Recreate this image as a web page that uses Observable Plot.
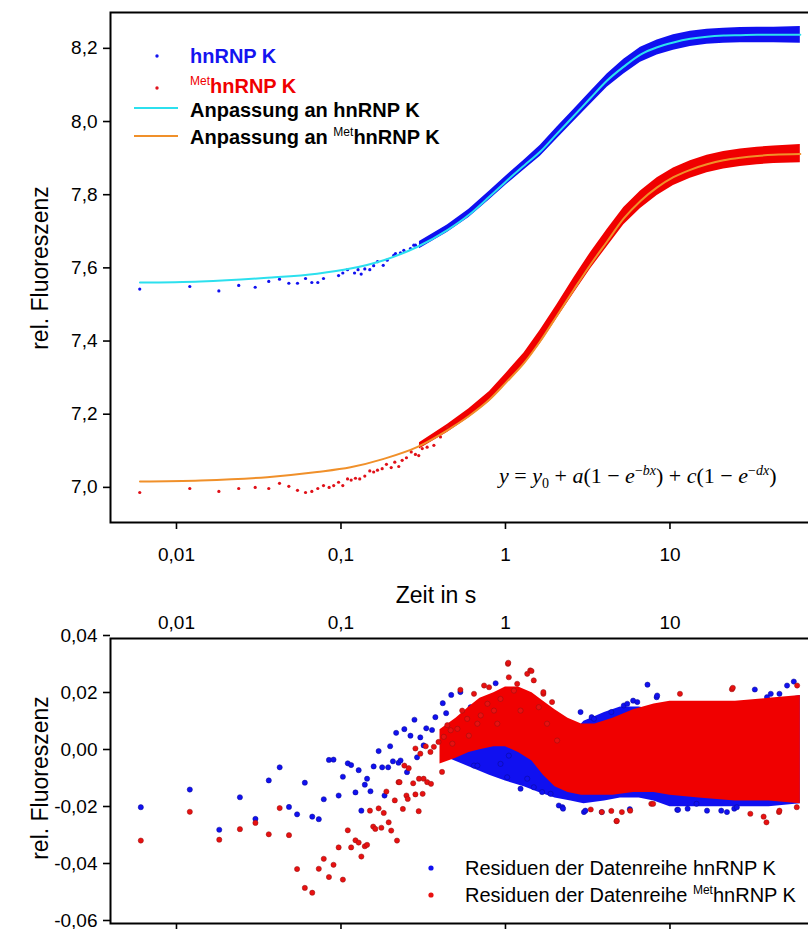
<!DOCTYPE html>
<html><head><meta charset="utf-8">
<script src="https://cdn.jsdelivr.net/npm/d3@7"></script>
<script src="https://cdn.jsdelivr.net/npm/@observablehq/plot@0.6"></script>
<style>
html,body{margin:0;padding:0;background:#fff;}
body{width:808px;height:929px;overflow:hidden;position:relative;font-family:"Liberation Sans",Arial,sans-serif;color:#000;}
.abs{position:absolute;white-space:nowrap;}
.plotbox{width:830px;overflow:visible;}
.plotbox svg{max-width:none !important;display:block;}
.ylab{font-size:23px;transform:translate(-50%,-50%) rotate(-90deg);}
.leg{font-size:20px;font-weight:bold;line-height:20px;}
.sup{font-size:12px;position:relative;top:-8px;}
.eq{font-family:"Liberation Serif","Times New Roman",serif;font-size:22px;line-height:22px;}
.eq sub,.eq sup{font-size:14px;line-height:0;}
</style></head><body>
<div id="top" class="abs plotbox" style="left:0;top:0"></div>
<div id="bot" class="abs plotbox" style="left:0;top:600px"></div>
<div class="abs ylab" style="left:40px;top:268px">rel. Fluoreszenz</div>
<div class="abs ylab" style="left:40px;top:778px">rel. Fluoreszenz</div>
<div class="abs" style="left:436px;top:595px;font-size:23px;transform:translate(-50%,-50%)">Zeit in s</div>
<div class="abs" style="left:0;top:0;width:808px;height:929px;pointer-events:none">
  <svg width="808" height="160" style="position:absolute;left:0;top:0">
    <circle cx="157" cy="56" r="1.7" fill="#1414f0"/>
    <circle cx="157" cy="88" r="1.7" fill="#e0141e"/>
    <line x1="134" x2="178" y1="108" y2="108" stroke="#2ce0ee" stroke-width="2"/>
    <line x1="134" x2="178" y1="136" y2="136" stroke="#f0902a" stroke-width="2"/>
  </svg>
  <div class="abs leg" style="left:190px;top:46px;color:#1414f0">hnRNP K</div>
  <div class="abs leg" style="left:190px;top:76px;color:#f00000"><span class="sup" style="font-weight:normal">Met</span>hnRNP K</div>
  <div class="abs leg" style="left:190px;top:100px">Anpassung an hnRNP K</div>
  <div class="abs leg" style="left:190px;top:127px">Anpassung an <span class="sup" style="font-weight:normal">Met</span>hnRNP K</div>
  <div class="abs eq" style="left:499px;top:465px"><i>y</i> = <i>y</i><sub>0</sub> + <i>a</i>(1 − <i>e</i><sup>−<i>bx</i></sup>) + <i>c</i>(1 − <i>e</i><sup>−<i>dx</i></sup>)</div>
  <svg width="808" height="929" style="position:absolute;left:0;top:0">
    <circle cx="431" cy="868" r="2.6" fill="#1010f0"/>
    <circle cx="431" cy="895" r="2.6" fill="#e81010"/>
  </svg>
  <div class="abs" style="left:465px;top:858px;font-size:20px;line-height:20px">Residuen der Datenreihe hnRNP K</div>
  <div class="abs" style="left:465px;top:885px;font-size:20px;line-height:20px">Residuen der Datenreihe <span class="sup">Met</span>hnRNP K</div>
</div>
<script>
// ---------- tick labels ----------
const xTicks = [0.01, 0.1, 1, 10];
const yTicksTop = [7.0, 7.2, 7.4, 7.6, 7.8, 8.0, 8.2];
const yTicksBot = [-0.06, -0.04, -0.02, 0.0, 0.02, 0.04];

// ---------- top panel: sparse early data points ----------
const blueTimes = [0.00598,0.01205,0.0181,0.0239,0.0301,0.0364,0.0423,0.0482,0.0544,0.0609,0.0665,0.0723,0.0783,0.0967,0.1026,0.1096,0.1209,0.127,0.1327,0.1396,0.1497,0.158,0.1667,0.1807,0.191,0.2094,0.2145,0.230,0.241,0.2645,0.277,0.2835,0.327,0.334,0.385,0.4217,0.442];
const blueValues = [7.542,7.549,7.537,7.552,7.547,7.563,7.569,7.558,7.558,7.571,7.560,7.560,7.571,7.579,7.586,7.595,7.586,7.595,7.583,7.597,7.595,7.606,7.617,7.607,7.621,7.634,7.639,7.641,7.648,7.653,7.662,7.662,7.675,7.675,7.694,7.707,7.707];
const redTimes = [0.00598,0.01205,0.0181,0.0239,0.0301,0.0364,0.0423,0.0482,0.0544,0.0609,0.0665,0.0723,0.0783,0.0847,0.0903,0.0967,0.1026,0.1096,0.1153,0.1225,0.130,0.1396,0.1497,0.158,0.1667,0.178,0.189,0.202,0.2124,0.2245,0.2355,0.250,0.2673,0.2835,0.297,0.312,0.334,0.367,0.4027,0.4426];
const redValues = [6.986,6.997,6.989,6.997,7.000,6.997,7.011,7.003,6.992,6.986,6.989,6.997,7.005,7.000,7.005,7.014,7.005,7.023,7.020,7.025,7.023,7.031,7.045,7.042,7.047,7.051,7.063,7.054,7.069,7.057,7.074,7.081,7.097,7.090,7.087,7.106,7.110,7.115,7.138,7.165];

// ---------- top panel: dense data band (lower / upper envelope) ----------
const bandTimes = [0.3,0.443,0.6,0.8,1.0,1.3,1.63,2.06,2.6,3.3,4.15,5.24,6.62,8.36,10.5,13.3,16.8,21.2,26.8,33.9,42.8,62];
const blueLow  = [7.652,7.697,7.738,7.786,7.825,7.868,7.905,7.953,8.000,8.048,8.094,8.130,8.162,8.182,8.195,8.205,8.211,8.214,8.215,8.215,8.215,8.214];
const blueHigh = [7.672,7.717,7.760,7.810,7.850,7.895,7.935,7.985,8.033,8.083,8.130,8.170,8.203,8.223,8.237,8.247,8.252,8.255,8.257,8.258,8.258,8.260];
const redLow   = [7.105,7.150,7.190,7.235,7.280,7.335,7.393,7.462,7.530,7.598,7.658,7.718,7.762,7.798,7.825,7.845,7.860,7.870,7.877,7.882,7.885,7.887];
const redHigh  = [7.122,7.172,7.215,7.262,7.310,7.368,7.430,7.500,7.572,7.643,7.705,7.765,7.810,7.846,7.873,7.893,7.908,7.918,7.925,7.930,7.933,7.937];

// ---------- top panel: fitted curves ----------
const fitTimes = [0.006,0.014,0.0356,0.0716,0.1143,0.182,0.29,0.443,0.6,0.8,1.0,1.3,1.63,2.06,2.6,3.3,4.15,5.24,6.62,8.36,10.5,13.3,16.8,21.2,26.8,33.9,42.8,62];
const fitBlue = [7.560,7.563,7.573,7.584,7.598,7.621,7.657,7.703,7.745,7.795,7.835,7.880,7.918,7.967,8.015,8.065,8.112,8.150,8.183,8.203,8.216,8.226,8.232,8.235,8.236,8.237,8.237,8.237];
const fitRed  = [7.016,7.019,7.028,7.042,7.055,7.078,7.110,7.156,7.195,7.240,7.285,7.340,7.400,7.470,7.540,7.610,7.672,7.735,7.783,7.820,7.848,7.868,7.883,7.894,7.901,7.906,7.909,7.911];

// ---------- bottom panel: residual scatter ----------
const resBlueTimes = [0.00607,0.01205,0.0182,0.0243,0.0302,0.0364,0.0424,0.0483,0.0541,0.0603,0.0669,0.0733,0.0786,0.0845,0.0901,0.0968,0.1027,0.1100,0.1153,0.1225,0.1281,0.1330,0.1396,0.1441,0.1511,0.158,0.1694,0.178,0.184,0.1936,0.199,0.2069,0.2165,0.2238,0.2302,0.2428,0.252,0.2645,0.2797,0.290,0.3036,0.3179,0.330,0.3578,0.3748,0.4156,0.4359,0.468,0.4853,0.532,0.585,0.614,0.6436,0.6748,0.851,0.8713,0.933,1.024,1.048,1.235,1.356,1.486,1.67,1.88,2.11,2.22,2.24,2.86,3.0,3.06,3.34,3.45,3.85,4.4,5.24,5.5,5.7,5.97,6.33,7.3,8.3,8.36,11.07,11.2,12.8,14.5,16.8,20.5,22.2,24.6,25.5,32.8,38.9,41,46.3,51.5,56.6];
const resBlueValues = [-0.0192,-0.0130,-0.0271,-0.0157,-0.0233,-0.0098,-0.0052,-0.0191,-0.0217,-0.0106,-0.0225,-0.0234,-0.0164,-0.0026,-0.0025,-0.0151,-0.0085,-0.0038,-0.0044,-0.0140,-0.0062,-0.0204,-0.0113,-0.0092,-0.0136,-0.0049,0.0005,-0.0052,-0.0151,-0.0052,0.0022,-0.0031,0.0069,-0.0036,-0.0028,0.0082,-0.0069,0.0059,0.0115,-0.0017,0.0053,0.0025,0.0085,0.0079,0.0124,0.0173,0.0138,0.0202,-0.0005,0.0212,0.0112,0.0159,-0.0046,-0.0046,0.0044,0.0243,-0.0040,-0.0087,-0.0011,-0.0127,-0.0092,-0.0122,-0.0139,-0.0145,-0.0186,-0.0192,-0.0197,0.0142,-0.0209,-0.0204,0.0124,0.0118,-0.0209,0.0142,0.0165,0.0171,-0.0199,0.0182,0.0177,0.0238,0.0194,0.0200,-0.0201,-0.0201,-0.0197,-0.0180,-0.0204,-0.0204,-0.0209,-0.0197,-0.0192,0.0221,0.0194,0.0206,0.0206,0.0235,0.0249];
const resRedTimes = [0.00607,0.01205,0.0182,0.0243,0.0302,0.0364,0.0424,0.0483,0.0541,0.0603,0.0669,0.0733,0.0786,0.0845,0.0901,0.0968,0.1027,0.1100,0.1153,0.1225,0.1281,0.1330,0.1396,0.1441,0.150,0.157,0.1617,0.1694,0.176,0.182,0.1888,0.195,0.202,0.2124,0.2191,0.2238,0.2271,0.2378,0.2428,0.2500,0.2546,0.2581,0.2747,0.2835,0.2835,0.2968,0.298,0.3036,0.3137,0.3179,0.3276,0.3342,0.3498,0.3527,0.367,0.3916,0.4115,0.4217,0.443,0.4643,0.4756,0.5103,0.532,0.5457,0.585,0.599,0.6436,0.6748,0.707,0.7413,0.777,0.795,0.851,0.892,0.933,1.035,1.04,1.048,1.125,1.178,1.235,1.356,1.414,1.44,1.486,1.593,1.70,1.70,1.79,1.92,2.06,3.3,3.85,4.4,4.73,4.75,5.1,5.73,7.7,7.9,11.5,23.8,24.1,30.8,37.1,38.6,46.0,46.3,59.0,59.3];
const resRedValues = [-0.0309,-0.0208,-0.0306,-0.0269,-0.0247,-0.0287,-0.0195,-0.0290,-0.0409,-0.0475,-0.0492,-0.0408,-0.0373,-0.0437,-0.0394,-0.0333,-0.0446,-0.0273,-0.0333,-0.0308,-0.0316,-0.0365,-0.0329,-0.0324,-0.0204,-0.0260,-0.0268,-0.0196,-0.0264,-0.0212,-0.0137,-0.0245,-0.0274,-0.0168,-0.0309,-0.0104,-0.0104,-0.0198,-0.0046,-0.0151,-0.0163,-0.0055,-0.0108,-0.0147,0.0014,-0.0206,-0.0092,-0.0004,-0.0145,-0.0092,0.0022,-0.0104,0.0002,-0.0110,0.0020,0.0037,-0.0068,0.0055,0.0096,0.0078,0.0031,0.0083,0.0220,0.0147,0.0118,0.0059,0.0206,0.0101,0.0130,0.0235,0.0171,0.0229,0.0147,0.0101,0.0188,0.0311,0.0315,0.0264,0.0217,0.0241,0.0147,0.0276,0.0288,0.0286,0.0253,0.0159,0.0206,0.0212,0.0101,0.0177,0.0042,-0.0200,-0.0209,-0.0205,-0.0241,-0.0240,-0.0209,-0.0204,-0.0180,-0.0180,0.0206,0.0222,0.0227,-0.0215,-0.0225,-0.0245,-0.0209,-0.0204,-0.0192,0.0235];

// ---------- bottom panel: dense residual bands ----------
const resBlueBandTimes = [0.45,0.6,0.8,1.0,1.3,1.6,2.0,2.5,3.0,4.0,5.0,6.5,8,10,15,25,40,62];
const resBlueLow  = [-0.002,-0.005,-0.008,-0.010,-0.012,-0.014,-0.016,-0.017,-0.018,-0.017,-0.016,-0.016,-0.017,-0.019,-0.019,-0.019,-0.019,-0.018];
const resBlueHigh = [0.010,0.008,0.006,0.006,0.004,0.002,0.002,0.006,0.011,0.014,0.016,0.016,0.015,0.016,0.016,0.017,0.018,0.020];
const resRedBandTimes = [0.4,0.5,0.6,0.7,0.85,1.0,1.2,1.45,1.7,2.0,2.4,2.9,3.5,4.5,6,8,10,15,25,40,62];
const resRedLow  = [-0.004,-0.002,0.000,0.001,0.002,0.002,0.000,-0.003,-0.008,-0.012,-0.014,-0.015,-0.015,-0.015,-0.014,-0.014,-0.015,-0.016,-0.017,-0.017,-0.018];
const resRedHigh = [0.008,0.012,0.016,0.019,0.021,0.023,0.023,0.021,0.018,0.015,0.012,0.010,0.010,0.012,0.015,0.017,0.018,0.018,0.018,0.019,0.020];

// ---------- build tables ----------
const zip2 = (xs, ys) => xs.map((t, i) => ({t, v: ys[i]}));
const blueSparse = zip2(blueTimes, blueValues);
const redSparse = zip2(redTimes, redValues);
const band = bandTimes.map((t, i) => ({t, bl: blueLow[i], bh: blueHigh[i], rl: redLow[i], rh: redHigh[i]}));
const fits = fitTimes.map((t, i) => ({t, b: fitBlue[i], r: fitRed[i]}));
const resBlue = zip2(resBlueTimes, resBlueValues);
const resRed = zip2(resRedTimes, resRedValues);
const resBlueBand = resBlueBandTimes.map((t, i) => ({t, lo: resBlueLow[i], hi: resBlueHigh[i]}));
const resRedBand = resRedBandTimes.map((t, i) => ({t, lo: resRedLow[i], hi: resRedHigh[i]}));

const BLUE = "#1010f0", RED = "#f00000", CYAN = "#2ce0ee", ORANGE = "#f0902a";
const xScale = {type: "log", domain: [0.003971, 94.6]};
const fmtX = d => String(d).replace(".", ",");
const style = {fontFamily: "'Liberation Sans', Arial, sans-serif", fontSize: "19px", color: "#000", background: "transparent", overflow: "visible"};

const topPlot = Plot.plot({
  width: 830, height: 580,
  marginTop: 12, marginBottom: 58, marginLeft: 110, marginRight: 0,
  style,
  x: xScale,
  y: {domain: [6.904, 8.298]},
  marks: [
    Plot.areaY(band, {x: "t", y1: "bl", y2: "bh", fill: BLUE}),
    Plot.areaY(band, {x: "t", y1: "rl", y2: "rh", fill: RED}),
    Plot.dot(blueSparse, {x: "t", y: "v", r: 1.6, fill: BLUE}),
    Plot.dot(redSparse, {x: "t", y: "v", r: 1.6, fill: "#e01018"}),
    Plot.line(fits, {x: "t", y: "b", stroke: CYAN, strokeWidth: 2, curve: "monotone-x"}),
    Plot.line(fits, {x: "t", y: "r", stroke: ORANGE, strokeWidth: 2, curve: "monotone-x"}),
    Plot.axisX({ticks: xTicks, tickFormat: fmtX, tickSize: 7, tickPadding: 18, strokeWidth: 1.6, label: null}),
    Plot.axisY({ticks: yTicksTop, tickFormat: d => d.toFixed(1).replace(".", ","), tickSize: 7, tickPadding: 6, strokeWidth: 1.6, label: null}),
    Plot.frame({stroke: "#000", strokeWidth: 2})
  ]
});
topPlot.style.maxWidth = "none";
document.getElementById("top").appendChild(topPlot);

const botPlot = Plot.plot({
  width: 830, height: 360,
  marginTop: 38, marginBottom: 37, marginLeft: 110, marginRight: 0,
  style,
  x: xScale,
  y: {domain: [-0.06, 0.04]},
  marks: [
    Plot.areaY(resBlueBand, {x: "t", y1: "lo", y2: "hi", fill: BLUE}),
    Plot.dot(resBlue, {x: "t", y: "v", r: 2.6, fill: BLUE, stroke: "#0a0a90", strokeWidth: 0.5}),
    Plot.areaY(resRedBand, {x: "t", y1: "lo", y2: "hi", fill: RED}),
    Plot.dot(resRed, {x: "t", y: "v", r: 2.6, fill: "#e81010", stroke: "#901010", strokeWidth: 0.5}),
    Plot.axisX({anchor: "top", ticks: xTicks, tickFormat: fmtX, tickSize: 0, tickPadding: 10, label: null}),
    Plot.axisX({anchor: "bottom", ticks: xTicks, tickFormat: () => "", tickSize: 7, strokeWidth: 1.6, label: null}),
    Plot.axisY({ticks: yTicksBot, tickFormat: d => d.toFixed(2).replace(".", ","), tickSize: 7, tickPadding: 6, strokeWidth: 1.6, dy: -3, label: null}),
    Plot.frame({stroke: "#000", strokeWidth: 2})
  ]
});
botPlot.style.maxWidth = "none";
document.getElementById("bot").appendChild(botPlot);
</script>
</body></html>
